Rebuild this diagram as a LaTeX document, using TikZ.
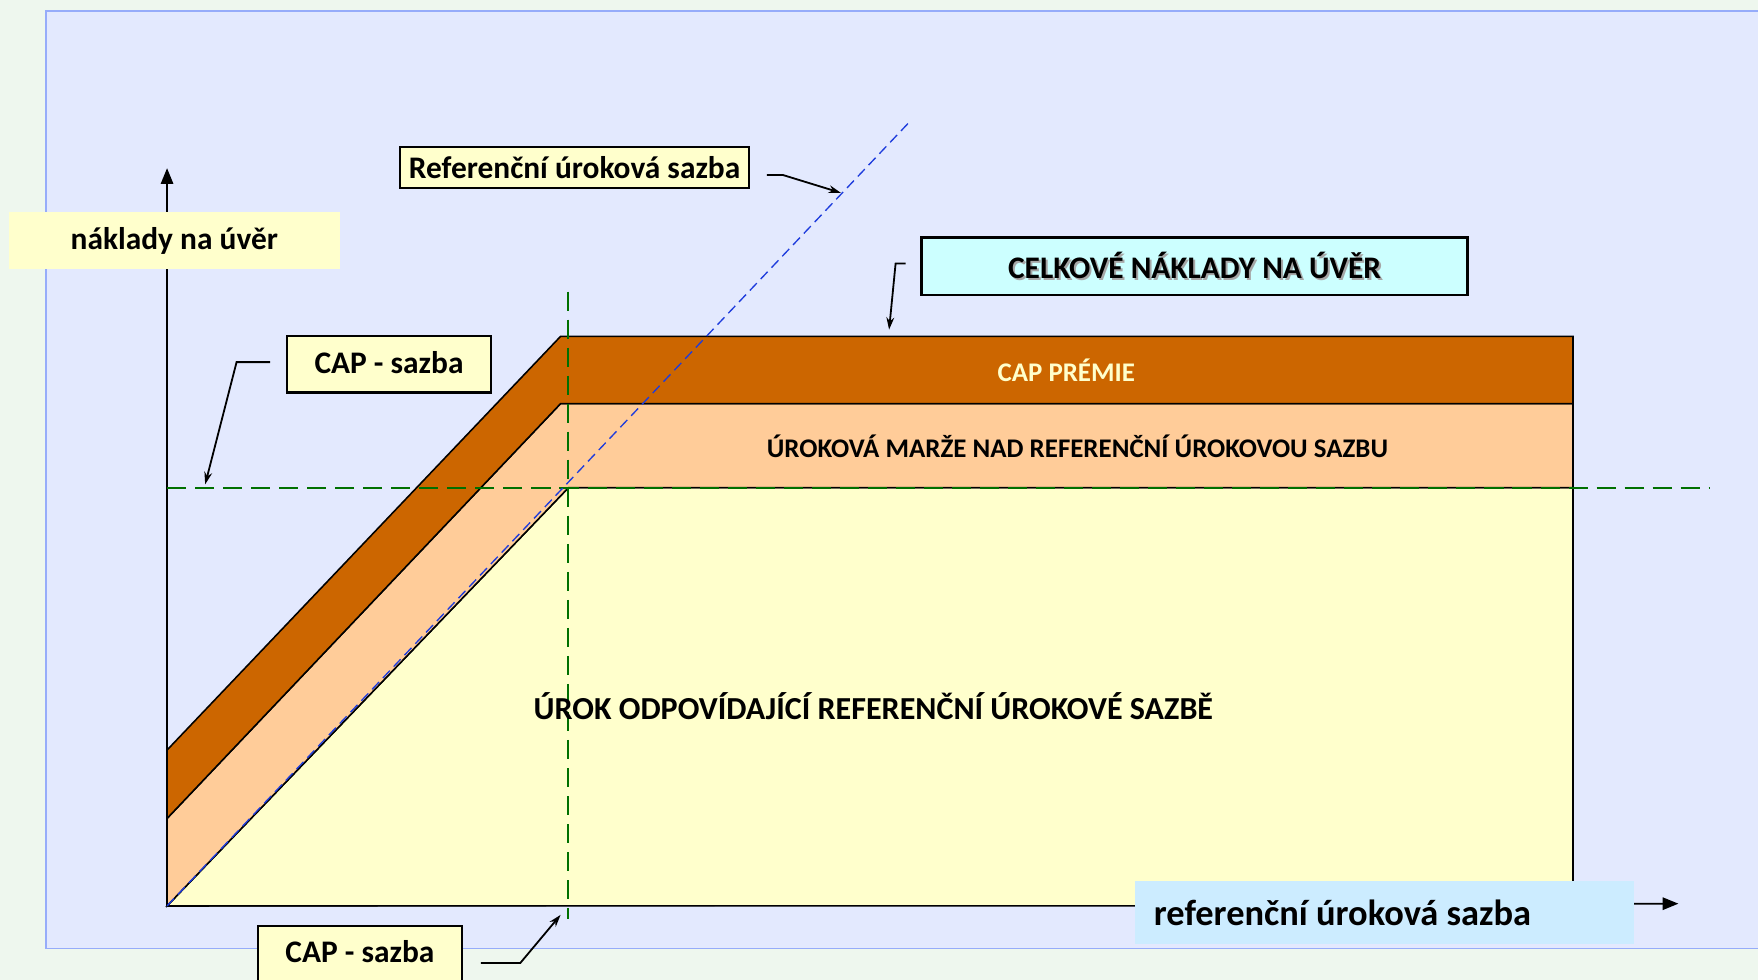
\documentclass[tikz,border=0pt]{standalone}
\usepackage{fontspec}
\setmainfont{Carlito}
\usetikzlibrary{arrows.meta}

\definecolor{pagebg}{RGB}{238,247,238}
\definecolor{panelbg}{RGB}{227,233,254}
\definecolor{panelrim}{RGB}{150,172,250}
\definecolor{paleyellow}{RGB}{255,255,204}
\definecolor{peach}{RGB}{255,204,153}
\definecolor{rust}{RGB}{204,102,0}
\definecolor{palecyan}{RGB}{204,255,255}
\definecolor{paleblue}{RGB}{204,236,255}
\definecolor{guidegreen}{RGB}{0,112,0}
\definecolor{refblue}{RGB}{30,60,220}

\newcommand{\shadowed}[1]{\makebox[0pt][l]{\hspace{1.8pt}\raisebox{-1.8pt}{\textcolor{black!35}{#1}}}#1}

\tikzset{
  labelbox/.style={draw=black, line width=2pt, fill=paleyellow, inner sep=0pt,
    font=\fontsize{28}{32}\selectfont\bfseries},
  band/.style={draw=black, line width=1.4pt},
  axisline/.style={draw=black, line width=1.6pt, -{Triangle[length=14pt,width=11pt]}},
  leader/.style={draw=black, line width=1.6pt, -{Stealth[length=11pt,width=7pt]}},
  guide/.style={draw=guidegreen, line width=1.8pt, dash pattern=on 17pt off 8pt},
  refline/.style={draw=refblue, line width=1.2pt, dash pattern=on 9pt off 5pt},
  bandtext/.style={font=\fontsize{24}{28}\selectfont\bfseries},
}

\begin{document}
\begin{tikzpicture}[x=1pt,y=-1pt]
  \useasboundingbox (0,0) rectangle (1568,874);
  \clip (0,0) rectangle (1568,874);

  % page and panel
  \fill[pagebg] (0,0) rectangle (1568,874);
  \filldraw[fill=panelbg, draw=panelrim, line width=1.5pt] (41,10) rectangle (1600,846);

  % key points of the cost profile
  \coordinate (O) at (149,808);
  \coordinate (K) at (507,435);
  \coordinate (yTop) at (149,150);
  \coordinate (xEnd) at (1497,806);
  \coordinate (refEnd) at (810,110);

  % axes
  \draw[axisline] (O) -- (yTop);
  \draw[axisline] (O) -- (xEnd);

  % interest matching the reference rate
  \filldraw[band, fill=paleyellow] (O) -- (K) -- (1403,435) -- (1403,808) -- cycle;
  % margin above the reference rate
  \filldraw[band, fill=peach] (O) -- (K) -- (1403,435) -- (1403,360) -- (500,360) -- (149,730) -- cycle;
  % cap premium
  \filldraw[band, fill=rust] (149,730) -- (500,360) -- (1403,360) -- (1403,300) -- (500,300) -- (149,669) -- cycle;

  % cap rate guides
  \draw[guide] (149,435) -- (1525,435);
  \draw[guide] (507,260) -- (507,820);
  % reference rate line
  \draw[refline] (O) -- (refEnd);

  % band labels
  \node[bandtext, text=paleyellow] (prem) at (951,330) {CAP PRÉMIE};
  \node[bandtext] (marg) at (961,398) {ÚROKOVÁ MARŽE NAD REFERENČNÍ ÚROKOVOU SAZBU};
  \node[font=\fontsize{28.6}{32}\selectfont\bfseries] (urok) at (779,630) {ÚROK ODPOVÍDAJÍCÍ REFERENČNÍ ÚROKOVÉ SAZBĚ};

  % axis captions
  \node[fill=paleyellow, inner sep=0pt, minimum width=295pt, minimum height=51pt,
        font=\fontsize{28}{32}\selectfont\bfseries] (ylab) at (155.5,214.5) {\raisebox{-5pt}{náklady na úvěr}};
  \node[fill=paleblue, anchor=west, inner xsep=17pt, inner ysep=0pt,
        minimum height=56pt,
        font=\fontsize{32.5}{36}\selectfont\bfseries] (xlab) at (1012,814) {\makebox[411pt][l]{referenční úroková sazba}};

  % callout boxes
  \node[labelbox, minimum width=311pt, minimum height=37pt] (refbox) at (512.5,149.5) {\raisebox{-2pt}{Referenční úroková sazba}};
  \node[labelbox, fill=palecyan, line width=2.4pt, minimum width=487pt, minimum height=51pt] (total) at (1065.5,237.5) {\shadowed{CELKOVÉ NÁKLADY NA ÚVĚR}};
  \node[labelbox, minimum width=182pt, minimum height=50pt] (capup) at (347,325) {\raisebox{4pt}{CAP - sazba}};
  \node[labelbox, minimum width=182pt, minimum height=60pt, text depth=14pt] (caplow) at (321,856) {\raisebox{1.5pt}{CAP - sazba}};

  % callout leaders
  \coordinate (refTip) at (750,172);
  \coordinate (totTip) at (793,294);
  \coordinate (capTip) at (183,432);
  \coordinate (lowTip) at (500,816);
  \draw[leader] ([xshift=15pt,yshift=-6.5pt]refbox.east) -- ++(14,0) -- (refTip);
  \draw[leader] ([xshift=-13pt,yshift=2.5pt]total.west) -- ++(-9,0) -- (totTip);
  \draw[leader] ([xshift=-14pt,yshift=2pt]capup.west) -- ++(-30,0) -- (capTip);
  \draw[leader] ([xshift=16pt,yshift=-3pt]caplow.east) -- ++(35,0) -- (lowTip);
\end{tikzpicture}
\end{document}
